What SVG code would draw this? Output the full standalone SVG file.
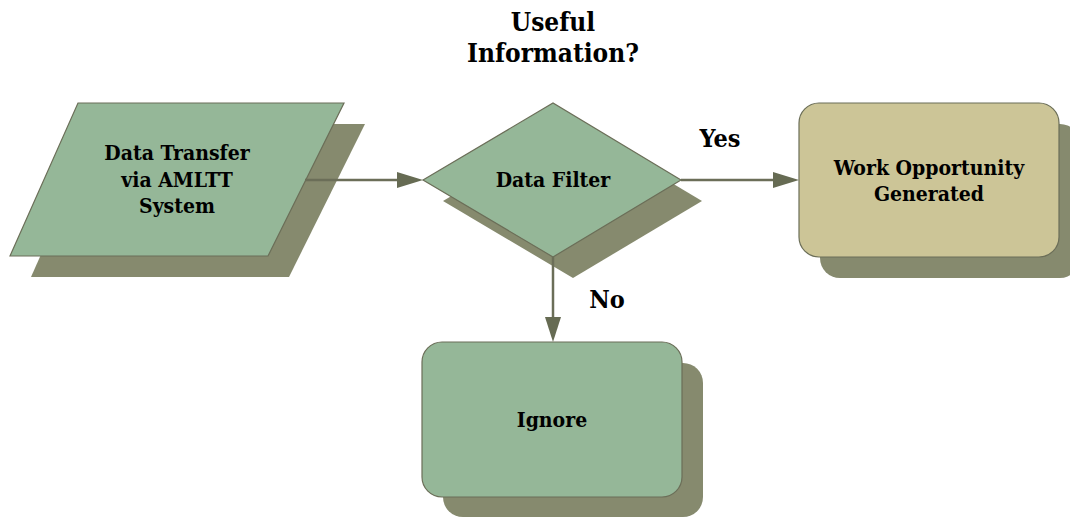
<svg xmlns="http://www.w3.org/2000/svg" width="1070" height="517" viewBox="0 0 1070 517">
<defs>
<style>
.shadow{fill:#868a6e;stroke:none}
.green{fill:#95b798;stroke:#6b6e58;stroke-width:1.2}
.tan{fill:#ccc597;stroke:#6b6e58;stroke-width:1.2}
.lbl{font-family:"DejaVu Serif Condensed","DejaVu Serif",serif;font-weight:bold;fill:#000;text-anchor:middle}
.conn{stroke:#6b6e58;stroke-width:2.5;fill:none}
.head{fill:#666b53}
</style>
</defs>
<rect width="1070" height="517" fill="#ffffff"/>
<g id="node-transfer">
<polygon class="shadow" points="99,124 365,124 289,277 31,277"/>
<polygon class="green" points="78,103 344,103 268,256 10,256"/>
<text class="lbl" font-size="21"><tspan x="177" y="160">Data Transfer</tspan><tspan x="177" y="187">via AMLTT</tspan><tspan x="177" y="213">System</tspan></text>
</g>
<g id="node-filter">
<polygon class="shadow" points="443,201 573,124 702,201 573,278"/>
<polygon class="green" points="423,180 553,103 681,180 553,257"/>
<text class="lbl" font-size="21" x="553" y="187">Data Filter</text>
</g>
<g id="node-question">
<text class="lbl" font-size="26"><tspan x="553" y="31">Useful</tspan><tspan x="553" y="62">Information?</tspan></text>
</g>
<g id="node-work">
<rect class="shadow" x="820" y="124" width="260" height="154" rx="20" ry="20"/>
<rect class="tan" x="799" y="103" width="260" height="154" rx="20" ry="20"/>
<text class="lbl" font-size="21"><tspan x="929" y="175">Work Opportunity</tspan><tspan x="929" y="201">Generated</tspan></text>
</g>
<g id="node-ignore">
<rect class="shadow" x="443" y="363" width="260" height="154" rx="20" ry="20"/>
<rect class="green" x="422" y="342" width="260" height="155" rx="20" ry="20"/>
<text class="lbl" font-size="21" x="552" y="427">Ignore</text>
</g>
<g id="connectors">
<line class="conn" x1="305" y1="180" x2="399" y2="180"/>
<polygon class="head" points="397,172 423,180 397,188"/>
<line class="conn" x1="681" y1="180" x2="775" y2="180"/>
<polygon class="head" points="773,172 799,180 773,188"/>
<line class="conn" x1="553" y1="257" x2="553" y2="319"/>
<polygon class="head" points="545,317 553,342 561,317"/>
<text class="lbl" font-size="25" x="720" y="147">Yes</text>
<text class="lbl" font-size="25" x="607" y="308">No</text>
</g>
</svg>
